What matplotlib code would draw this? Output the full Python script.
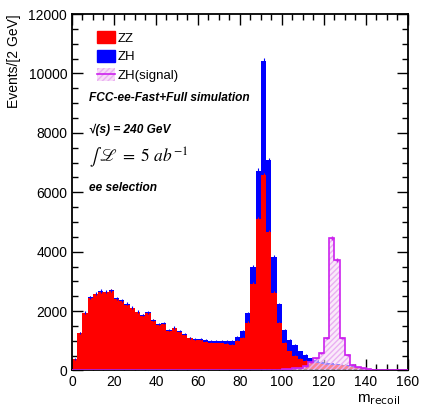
import numpy as np
import matplotlib.pyplot as plt
from matplotlib.patches import Patch
from matplotlib.lines import Line2D
from matplotlib.ticker import MultipleLocator

plt.rcParams['font.family'] = ['Liberation Sans', 'DejaVu Sans']

# 64 bins of 2.5 GeV from 0 to 160
edges = np.linspace(0, 160, 65)

zz = [375, 1250, 1930, 2450, 2560, 2650, 2630, 2680, 2400, 2340,
      2220, 2090, 1960, 1850, 1930, 1680, 1540, 1570, 1340, 1420,
      1300, 1190, 1080, 1030, 1020, 970, 920, 910, 910, 900,
      870, 1000, 1080, 1610, 2910, 5090, 6580, 4670, 2620, 1590,
      920, 640, 500, 400, 320, 260, 240, 220, 200, 190,
      185, 175, 155, 125, 95, 68, 45, 28, 17, 8,
      4, 2, 0, 0]

zh = [10, 15, 20, 20, 25, 25, 25, 25, 25, 25,
      25, 25, 25, 25, 25, 25, 25, 25, 30, 25,
      25, 25, 30, 30, 40, 55, 65, 70, 80, 100,
      130, 120, 250, 320, 590, 1635, 3840, 2415, 1210, 650,
      440, 390, 360, 240, 200, 150, 100, 80, 60, 50,
      35, 25, 20, 15, 10, 7, 5, 4, 3, 2,
      1, 0, 0, 0]

sig = [0] * 36 + [10, 15, 20, 25, 35, 50, 70, 100, 140, 270,
                  410, 580, 1085, 4450, 3720, 1085, 520, 200, 120, 70,
                  40, 25, 15, 8, 4, 2, 0, 0]

zz = np.array(zz, dtype=float)
zh = np.array(zh, dtype=float)
sig = np.array(sig, dtype=float)
centers = 0.5 * (edges[:-1] + edges[1:])

fig = plt.figure(figsize=(4.22, 4.07), dpi=100)
ax = fig.add_axes([0.1706, 0.0897, 0.7962, 0.8759])

red = '#ff0000'
blue = '#0000ff'
mag = '#cc22ee'

ax.stairs(zz, edges, fill=True, color=red, zorder=2)
ax.stairs(zz + zh, edges, baseline=zz, fill=True, color=blue, zorder=2)
ax.errorbar(centers, zz, yerr=np.sqrt(zz), fmt='none', ecolor=red, elinewidth=0.8, zorder=3)
ax.errorbar(centers, zz + zh, yerr=np.sqrt(zz + zh), fmt='none', ecolor=blue, elinewidth=0.8, zorder=3)

ax.stairs(sig, edges, fill=True, facecolor='#f7dcf7', alpha=0.6, zorder=4)
ax.stairs(sig, edges, fill=True, facecolor='none', edgecolor='#eab0f2', hatch='//////',
          linewidth=0, zorder=4)
ax.stairs(sig, edges, color=mag, linewidth=1.2, zorder=5)
m = sig > 0
ax.errorbar(centers[m], sig[m], yerr=np.sqrt(sig[m]), xerr=0.9, fmt='none', ecolor=mag,
            elinewidth=1.0, zorder=5)

ax.set_xlim(0, 160)
ax.set_ylim(0, 12000)
ax.xaxis.set_major_locator(MultipleLocator(20))
ax.xaxis.set_minor_locator(MultipleLocator(5))
ax.yaxis.set_major_locator(MultipleLocator(2000))
ax.yaxis.set_minor_locator(MultipleLocator(500))
ax.tick_params(which='both', direction='in', top=True, right=True, labelsize=10, width=1)
ax.tick_params(which='major', length=8)
ax.tick_params(which='minor', length=4)
ax.tick_params(axis='x', pad=3)
for s in ax.spines.values():
    s.set_linewidth(1.3)

ax.set_ylabel('Events/[2 GeV]', fontsize=10, loc='top')
ax.yaxis.set_label_coords(-0.152, 1.0)
ax.set_xlabel(r'm$_{\mathrm{recoil}}$', fontsize=11, loc='right')
ax.xaxis.set_label_coords(0.976, -0.062)

handles = [Patch(facecolor=red, edgecolor=red),
           Patch(facecolor=blue, edgecolor=blue),
           (Patch(facecolor='#f7dcf7', edgecolor='#eab0f2', hatch='//////', linewidth=0),
            Line2D([0], [0], color=mag, lw=1.2))]
ax.legend(handles, ['ZZ', 'ZH', 'ZH(signal)'], loc='upper left', bbox_to_anchor=(0.048, 0.978),
          frameon=False, fontsize=9.5, handlelength=1.35, handleheight=1.05,
          handletextpad=0.15, labelspacing=0.38, borderaxespad=0.3)

tx = 0.052
ax.text(tx, 0.763, 'FCC-ee-Fast+Full simulation', transform=ax.transAxes, fontsize=8.6,
        fontweight='bold', fontstyle='italic', va='center')
ax.text(tx, 0.676, '\u221a(s) = 240 GeV', transform=ax.transAxes, fontsize=8.6,
        fontweight='bold', fontstyle='italic', va='center')
ax.text(tx, 0.598, r'$\int\, \mathscr{L}\ =\ 5\ ab^{-1}$', transform=ax.transAxes,
        fontsize=12.5, va='center', math_fontfamily='stix')
ax.text(tx, 0.511, 'ee selection', transform=ax.transAxes, fontsize=8.6,
        fontweight='bold', fontstyle='italic', va='center')

fig.savefig('out.png', dpi=100)
